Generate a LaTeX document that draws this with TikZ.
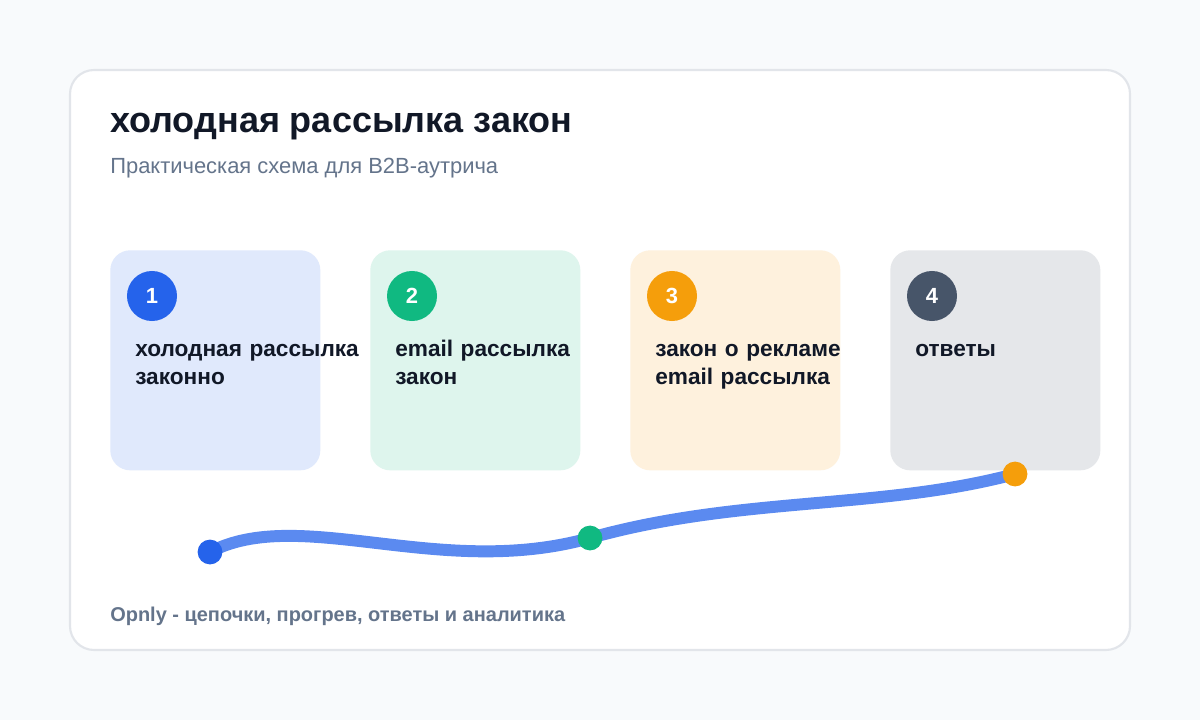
\documentclass[tikz,border=0pt]{standalone}
\usepackage{fontspec}
\setmainfont{Liberation Sans}
\usepackage{xcolor}
\usetikzlibrary{positioning,calc}

\definecolor{pageBg}{HTML}{F8FAFC}
\definecolor{cardLine}{HTML}{E2E5EA}
\definecolor{inkDark}{HTML}{111827}
\definecolor{inkGray}{HTML}{64748B}
\definecolor{stepBlue}{HTML}{2563EB}
\definecolor{stepGreen}{HTML}{10B981}
\definecolor{stepOrange}{HTML}{F59E0B}
\definecolor{stepSlate}{HTML}{475569}
\definecolor{wave}{HTML}{5B8AF0}

\begin{document}
\begin{tikzpicture}[x=0.025cm,y=-0.025cm,
    stepbox/.style={rectangle,rounded corners=0.5cm,minimum width=5.25cm,minimum height=5.5cm,inner sep=0,anchor=north west},
    badge/.style={circle,minimum size=1.25cm,inner sep=0,text=white,font=\fontsize{15.6pt}{17pt}\selectfont\bfseries},
    steptext/.style={anchor=base west,inner sep=0,text width=6.5cm,align=left,text=inkDark,font=\fontsize{16.1pt}{19.9pt}\selectfont\bfseries},
    dot/.style={circle,minimum size=0.62cm,inner sep=0}]
    \useasboundingbox (0,0) rectangle (1200,720);
    \fill[pageBg] (0,0) rectangle (1200,720);
    \draw[cardLine,line width=1.5pt,fill=white,rounded corners=0.6cm] (70,70) rectangle (1130,650);

    % header
    \node[anchor=base west,inner sep=0,text=inkDark,font=\fontsize{25.6pt}{30pt}\selectfont\bfseries] (title) at (110,133) {холодная рассылка закон};
    \node[anchor=base west,inner sep=0,text=inkGray,font=\fontsize{15.6pt}{18pt}\selectfont] (subtitle) at (110,174) {Практическая схема для B2B-аутрича};

    % steps
    \node[stepbox,fill=stepBlue!14!white] (box1) at (110,250) {};
    \node[stepbox,fill=stepGreen!14!white] (box2) at (370,250) {};
    \node[stepbox,fill=stepOrange!14!white] (box3) at (630,250) {};
    \node[stepbox,fill=stepSlate!14!white] (box4) at (890,250) {};

    \node[badge,fill=stepBlue] (num1) at (152,296) {1};
    \node[badge,fill=stepGreen] (num2) at (412,296) {2};
    \node[badge,fill=stepOrange] (num3) at (672,296) {3};
    \node[badge,fill=stepSlate] (num4) at (932,296) {4};

    \node[steptext] (text1) at (135,357) {холодная рассылка\\законно};
    \node[steptext] (text2) at (395,357) {email рассылка\\закон};
    \node[steptext] (text3) at (655,357) {закон о рекламе\\email рассылка};
    \node[steptext] (text4) at (915,357) {ответы};

    % progress line
    \coordinate (p1) at (210,552);
    \coordinate (p2) at (590,538);
    \coordinate (p3) at (1015,474);
    \draw[wave,line width=8.5pt] (p1) .. controls (300,505) and (440,580) .. (p2)
        .. controls (740,496) and (880,510) .. (p3);
    \node[dot,fill=stepBlue] (dot1) at (p1) {};
    \node[dot,fill=stepGreen] (dot2) at (p2) {};
    \node[dot,fill=stepOrange] (dot3) at (p3) {};

    % footer
    \node[anchor=base west,inner sep=0,text=inkGray,font=\fontsize{14.2pt}{16pt}\selectfont\bfseries] (footer) at (110,621) {Opnly - цепочки, прогрев, ответы и аналитика};
\end{tikzpicture}
\end{document}
